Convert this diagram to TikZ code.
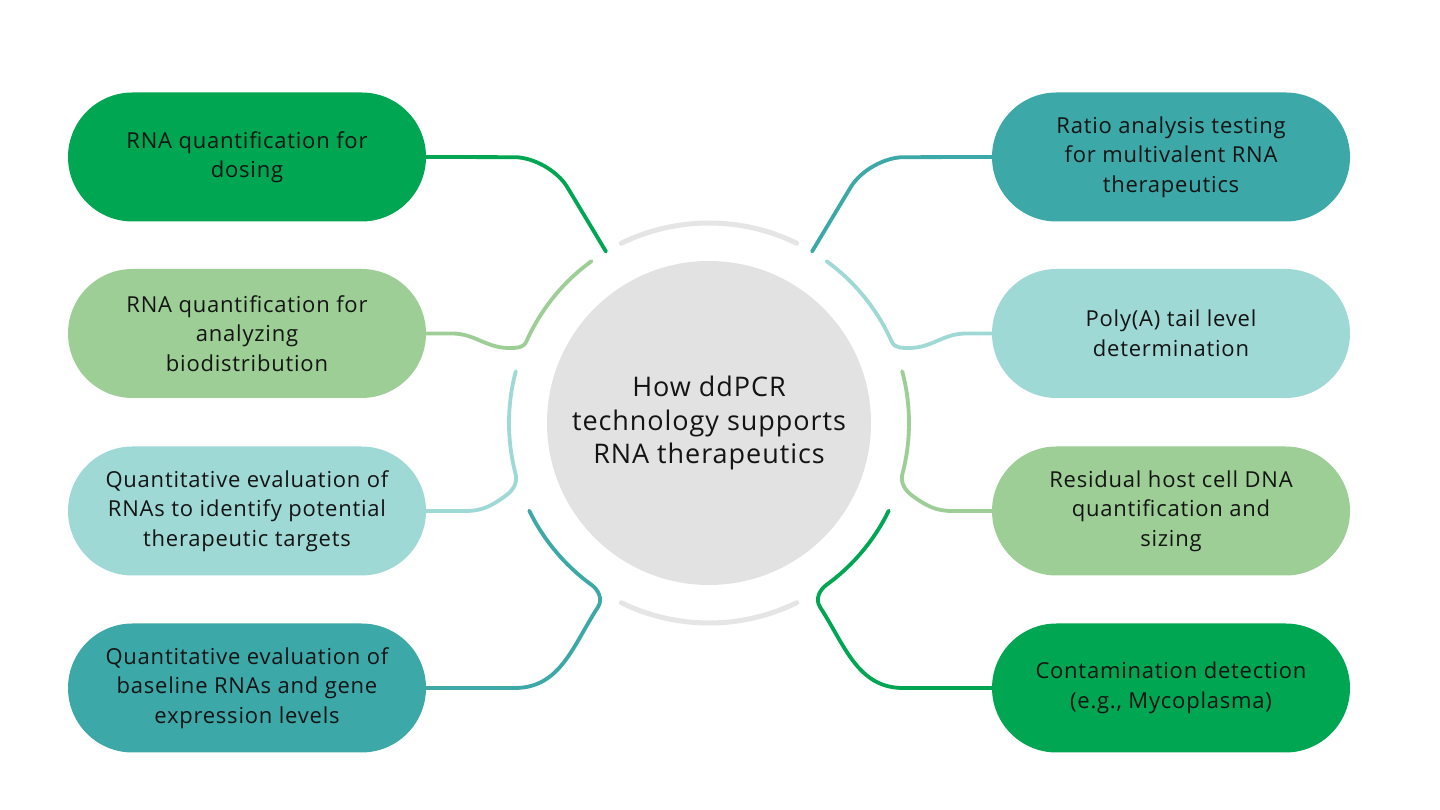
\documentclass[tikz,border=0pt]{standalone}
\usepackage{fontspec}
\setmainfont{Open Sans}[LetterSpace=3.5]
\usetikzlibrary{arrows}
\definecolor{dkgreen}{HTML}{00A651}
\definecolor{ltgreen}{HTML}{9CCE95}
\definecolor{rnateal}{HTML}{3DA8A8}
\definecolor{ltteal}{HTML}{9FD9D5}
\definecolor{hubgrey}{HTML}{E2E2E2}
\definecolor{ringgrey}{HTML}{E5E5E5}
\definecolor{txtgrey}{HTML}{141414}
\begin{document}
\begin{tikzpicture}[x=1pt,y=1pt,line cap=round,line join=round,
  pill/.style={rectangle,rounded corners=64.5pt,minimum width=358pt,minimum height=129pt,
    inner sep=0pt,align=center,text=txtgrey,font=\fontsize{22}{29.5}\selectfont},
  link/.style={line width=3.8pt},
  halo/.style={line width=5pt,color=ringgrey}]
\useasboundingbox (0,0) rectangle (1440,810);
\fill[white] (0,0) rectangle (1440,810);
% centre
\node[circle,fill=hubgrey,minimum size=324pt,inner sep=0pt,align=center,text=txtgrey,
  font=\fontsize{27}{33.5}\selectfont] (hub) at (709,387) {How ddPCR\\technology supports\\RNA therapeutics};
\foreach \a in {64,244}
  \draw[halo] ([shift={(\a:200)}]hub.center) arc[start angle=\a,end angle=\a+52,radius=200];
% left column
\node[pill,fill=dkgreen] (p1) at (247,653) {RNA quantification for\\dosing};
\node[pill,fill=ltgreen] (p2) at (247,476.5) {RNA quantification for\\analyzing\\biodistribution};
\node[pill,fill=ltteal] (p3) at (247,299) {Quantitative evaluation of\\RNAs to identify potential\\therapeutic targets};
\node[pill,fill=rnateal] (p4) at (247,122) {Quantitative evaluation of\\baseline RNAs and gene\\expression levels};
% right column
\node[pill,fill=rnateal] (p5) at (1171,653) {Ratio analysis testing\\for multivalent RNA\\therapeutics};
\node[pill,fill=ltteal] (p6) at (1171,476.5) {Poly(A) tail level\\determination};
\node[pill,fill=ltgreen] (p7) at (1171,299) {Residual host cell DNA\\quantification and\\sizing};
\node[pill,fill=dkgreen] (p8) at (1171,122) {Contamination detection\\(e.g., Mycoplasma)};
% ring ends
\coordinate (r1) at ([shift={(121:200)}]hub.center);
\coordinate (r2) at ([shift={(126:200)}]hub.center);
\coordinate (r3) at ([shift={(165:200)}]hub.center);
\coordinate (r4) at ([shift={(206:200)}]hub.center);
\coordinate (r5) at ([shift={(59:200)}]hub.center);
\coordinate (r6) at ([shift={(54:200)}]hub.center);
\coordinate (r7) at ([shift={(15:200)}]hub.center);
\coordinate (r8) at ([shift={(-26:200)}]hub.center);
% connectors
\draw[link,dkgreen,rounded corners=35pt] (r1) -- ([shift={(121:310)}]hub.center) -- (p1.east);
\draw[link,ltgreen] (r2) arc[start angle=126,end angle=156,radius=200]
  to[out=246,in=0] (509,462) to[out=180,in=0] (452,476.5) -- (p2.east);
\draw[link,ltteal] (r3) arc[start angle=165,end angle=195,radius=200]
  to[out=280,in=35] (504,313) to[out=215,in=0] (466,299) -- (p3.east);
\draw[link,rnateal] (r4) arc[start angle=206,end angle=234,radius=200]
  to[out=324,in=57] (598,203) to[out=237,in=0] (515,122) -- (p4.east);
\draw[link,rnateal,rounded corners=35pt] (r5) -- ([shift={(59:310)}]hub.center) -- (p5.west);
\draw[link,ltteal] (r6) arc[start angle=54,end angle=24,radius=200]
  to[out=294,in=180] (909,462) to[out=0,in=180] (966,476.5) -- (p6.west);
\draw[link,ltgreen] (r7) arc[start angle=15,end angle=-15,radius=200]
  to[out=260,in=145] (914,313) to[out=325,in=180] (952,299) -- (p7.west);
\draw[link,dkgreen] (r8) arc[start angle=-26,end angle=-54,radius=200]
  to[out=216,in=123] (820,203) to[out=303,in=180] (903,122) -- (p8.west);
\end{tikzpicture}
\end{document}
